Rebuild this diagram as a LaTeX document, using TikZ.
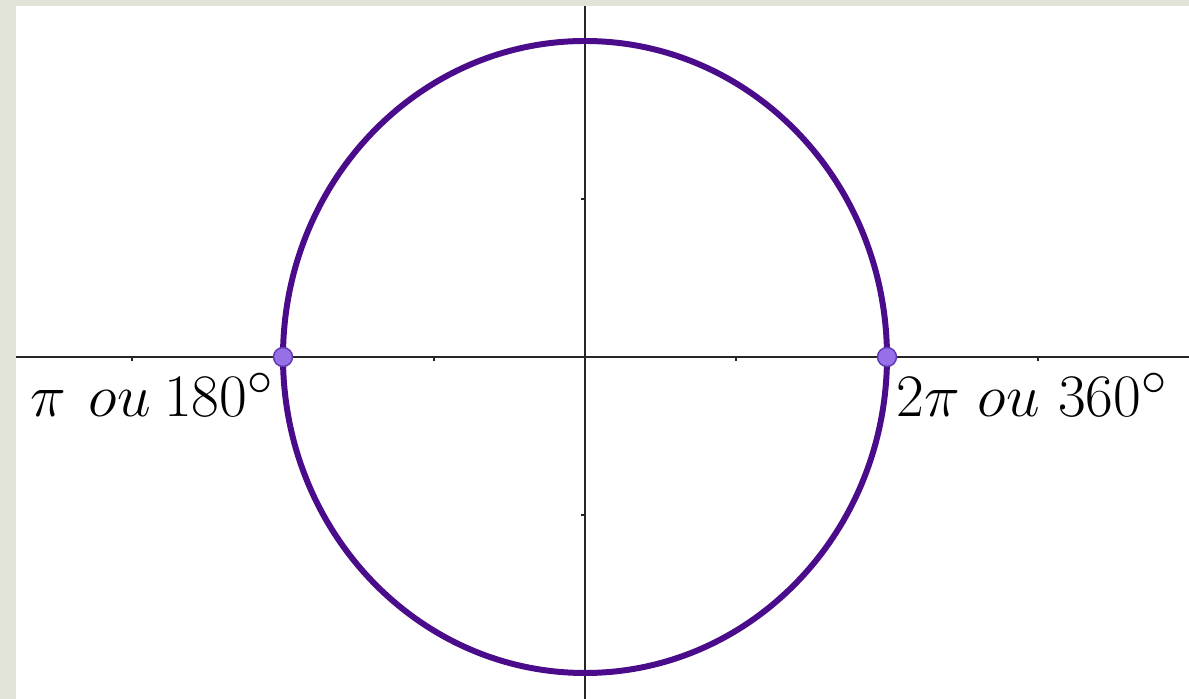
\documentclass[tikz,border=0pt]{standalone}
\usepackage{amsmath,amssymb}
\usetikzlibrary{positioning, calc}
\definecolor{circpurple}{RGB}{75,12,140}
\definecolor{dotfill}{RGB}{150,112,230}
\definecolor{dotdraw}{RGB}{95,55,175}
\definecolor{slidegray}{RGB}{227,228,216}
\tikzset{
  every node/.style={font=\Huge},
  axis/.style   = {draw=black!85, line width=0.85pt},
  tick/.style   = {draw=black!85, line width=1.2pt},
  unitcirc/.style = {draw=circpurple, line width=3.4pt},
  pt/.style     = {circle, draw=dotdraw, fill=dotfill, line width=0.8pt,
                   inner sep=0pt, minimum size=0.38cm},
  lbl/.style    = {inner sep=0pt, scale=1.38},
}
\begin{document}
\begin{tikzpicture}[x=3.02cm, y=3.16cm]
  % slide background
  \fill[slidegray] (-11.70cm,-6.84cm) rectangle (12.08cm,7.14cm);
  \fill[white] (-11.38cm,-6.84cm) rectangle (12.08cm,7.02cm);
  \useasboundingbox (-11.70cm,-6.84cm) rectangle (12.08cm,7.14cm);

  % axes
  \coordinate (xl) at (-11.38cm,0);
  \coordinate (xr) at (12.08cm,0);
  \coordinate (yb) at (0,-6.84cm);
  \coordinate (yt) at (0,7.02cm);
  \draw[axis] (xl) -- (xr);
  \draw[axis] (yb) -- (yt);
  \foreach \i in {-3,-1,1,3}
    \draw[tick] (\i,0) -- ++(0,-0.08cm);
  \foreach \j in {-1,1}
    \draw[tick] (0,\j) -- ++(-0.08cm,0);

  % circle
  \draw[unitcirc] (0,0) ellipse [x radius=2, y radius=2];

  \node[pt] (pi)  at (-2,0) {};
  \node[pt] (tpi) at (2,0)  {};

  \node[lbl, anchor=base east] (pilbl)  at (-6.22cm,-1.20cm)
    {$\pi\hspace{0.38em}ou\hspace{0.22em}180^\circ$};
  \node[lbl, anchor=base west] (tpilbl) at (6.22cm,-1.20cm)
    {$2\pi\hspace{0.3em}ou\hspace{0.3em}360^\circ$};
\end{tikzpicture}
\end{document}
